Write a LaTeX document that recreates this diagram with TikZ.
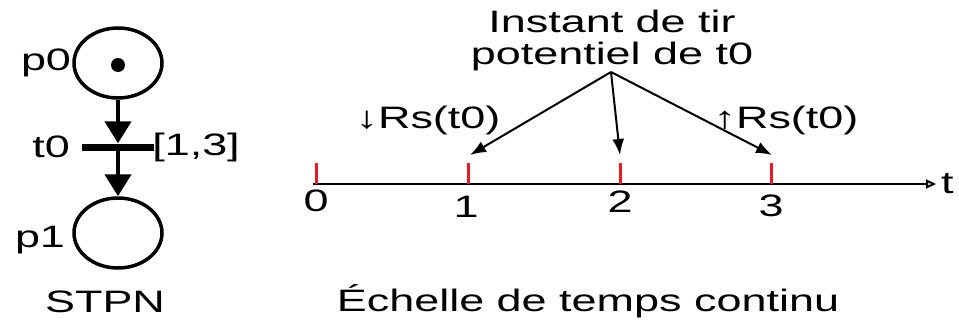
\documentclass[tikz,border=0pt]{standalone}
\usepackage{fontspec}
\setmainfont{Liberation Sans}[FakeStretch=1.45]
\usetikzlibrary{shapes.geometric,arrows.meta}
\definecolor{tickred}{RGB}{228,28,40}
\tikzset{
  place/.style={draw, ellipse, line width=3.5pt, minimum width=88pt, minimum height=70pt, inner sep=0pt},
  trans/.style={fill=black, rectangle, minimum width=72pt, minimum height=7pt, inner sep=0pt},
  lbl/.style={font=\fontsize{31}{32}\selectfont, inner sep=0pt},
  pnarc/.style={line width=4.5pt, -{Triangle[length=22pt,width=26pt]}},
  tickmark/.style={draw=tickred, line width=3pt},
  callout/.style={line width=2pt, -{Latex[length=16pt,width=12pt]}},
}
\begin{document}
\begin{tikzpicture}[x=1pt,y=-1pt]
\useasboundingbox (0,0) rectangle (959,324);
% Petri net
\node[place] (p0) at (118,63) {};
\node[circle, fill=black, minimum size=14pt, inner sep=0pt] (tok) at (118,65) {};
\node[trans] (t0) at (118,147) {};
\node[place] (p1) at (118,233) {};
\draw[pnarc] (p0) -- (t0);
\draw[pnarc] (t0) -- (p1);
\node[lbl] (lp0) at (46,63) {p0};
\node[lbl] (lt0) at (51,147) {t0};
\node[lbl] (lint) at (196,147) {[1,3]};
\node[lbl] (lp1) at (40,240) {p1};
\node[lbl] (stpn) at (105,302) {STPN};
% time axis
\coordinate (a0) at (313,184);
\coordinate (a1) at (936,184);
\draw[line width=2pt, -{Triangle[open,length=10pt,width=9pt]}] (a0) -- (a1);
\node[lbl, anchor=west] (tt) at (941,184) {t};
\foreach \x/\n in {316/k0,468/k1,620/k2,771/k3}{
  \coordinate (\n top) at (\x,163);
  \coordinate (\n bot) at (\x,184);
  \draw[tickmark] (\n top) -- (\n bot);
}
\node[lbl] (n0) at (316,201) {0};
\node[lbl] (n1) at (466,207) {1};
\node[lbl] (n2) at (620,202) {2};
\node[lbl] (n3) at (771,206) {3};
\node[lbl, align=center] (inst) at (612,40) {Instant de tir\\potentiel de t0};
\coordinate (apex) at (611,72);
\coordinate (e1) at (470,155);
\coordinate (e2) at (620,155);
\coordinate (e3) at (772,155);
\draw[callout] (apex) -- (e1);
\draw[callout] (apex) -- (e2);
\draw[callout] (apex) -- (e3);
\node[lbl] (rsd) at (428,120) {↓Rs(t0)};
\node[lbl] (rsu) at (786,120) {↑Rs(t0)};
\node[lbl] (ech) at (588,301) {Échelle de temps continu};
\end{tikzpicture}
\end{document}
